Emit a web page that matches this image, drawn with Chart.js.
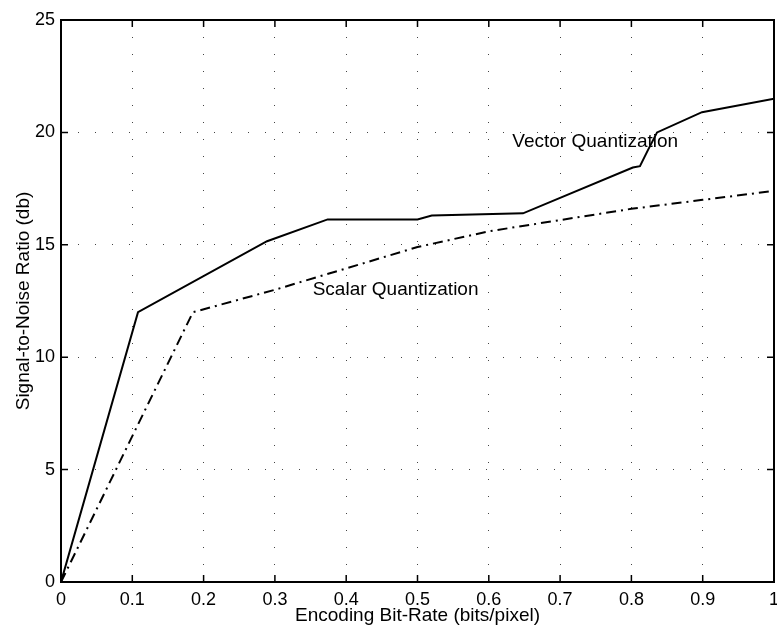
<!DOCTYPE html>
<html>
<head>
<meta charset="utf-8">
<script src="https://cdn.jsdelivr.net/npm/chart.js@4/dist/chart.umd.min.js"></script>
<style>
html,body{margin:0;padding:0;background:#fff;}
#wrap{width:777px;height:634px;}
</style>
</head>
<body>
<div id="wrap"><canvas id="c" width="777" height="634"></canvas></div>
<script>
const vectorX = [0, 0.108, 0.289, 0.374, 0.50, 0.52, 0.648, 0.802, 0.812, 0.823, 0.836, 0.899, 1.0];
const vectorY = [0, 12.0, 15.16, 16.13, 16.13, 16.3, 16.4, 18.44, 18.5, 19.2, 20.0, 20.9, 21.5];
const scalarX = [0, 0.185, 0.3, 0.4, 0.5, 0.6, 0.7, 0.8, 0.9, 1.0];
const scalarY = [0, 12.0, 13.0, 13.95, 14.9, 15.6, 16.1, 16.6, 17.0, 17.4];
const xTicks = [0, 0.1, 0.2, 0.3, 0.4, 0.5, 0.6, 0.7, 0.8, 0.9, 1];
const yTicks = [0, 5, 10, 15, 20, 25];
const labels = [
  {text: 'Vector Quantization', x: 0.633, y: 19.6},
  {text: 'Scalar Quantization', x: 0.353, y: 12.98}
];

const FONT = '"Liberation Sans", Arial, Helvetica, sans-serif';

const framePlugin = {
  id: 'frame',
  afterDatasetsDraw(chart) {
    const {ctx, chartArea: a, scales: {x, y}} = chart;
    ctx.save();
    ctx.strokeStyle = '#000';
    ctx.lineWidth = 2;
    ctx.setLineDash([]);
    ctx.strokeRect(a.left, a.top, a.right - a.left, a.bottom - a.top);
    ctx.lineWidth = 1.5;
    const L = 7;
    ctx.beginPath();
    xTicks.forEach(v => {
      const px = x.getPixelForValue(v);
      ctx.moveTo(px, a.bottom); ctx.lineTo(px, a.bottom - L);
      ctx.moveTo(px, a.top); ctx.lineTo(px, a.top + L);
    });
    yTicks.forEach(v => {
      const py = y.getPixelForValue(v);
      ctx.moveTo(a.left, py); ctx.lineTo(a.left + L, py);
      ctx.moveTo(a.right, py); ctx.lineTo(a.right - L, py);
    });
    ctx.stroke();
    ctx.fillStyle = '#000';
    ctx.font = '19px ' + FONT;
    ctx.textBaseline = 'middle';
    ctx.textAlign = 'left';
    labels.forEach(l => {
      ctx.fillText(l.text, x.getPixelForValue(l.x), y.getPixelForValue(l.y));
    });
    ctx.restore();
  }
};

new Chart(document.getElementById('c'), {
  type: 'line',
  data: {
    datasets: [
      {
        label: 'Vector Quantization',
        data: vectorX.map((v, i) => ({x: v, y: vectorY[i]})),
        borderColor: '#000', borderWidth: 2, pointRadius: 0, tension: 0, fill: false
      },
      {
        label: 'Scalar Quantization',
        data: scalarX.map((v, i) => ({x: v, y: scalarY[i]})),
        borderColor: '#000', borderWidth: 2, borderDash: [10, 5, 2, 5], pointRadius: 0, tension: 0, fill: false
      }
    ]
  },
  options: {
    responsive: false,
    animation: false,
    events: [],
    layout: {padding: {left: 0, right: 3, top: 20, bottom: 0}},
    plugins: {legend: {display: false}, tooltip: {enabled: false}},
    scales: {
      x: {
        type: 'linear', min: 0, max: 1,
        afterBuildTicks: s => { s.ticks = xTicks.map(v => ({value: v})); },
        afterFit: s => { s.height = 52; s.paddingLeft = 0; s.paddingRight = 0; },
        ticks: {color: '#000', font: {family: FONT, size: 18}, padding: 7, maxRotation: 0,
          callback: v => String(Math.round(v * 10) / 10)},
        grid: {color: '#444', lineWidth: 1, drawTicks: false},
        border: {display: false, dash: [1, 16]},
        title: {display: true, text: 'Encoding Bit-Rate (bits/pixel)', color: '#000',
          font: {family: FONT, size: 19}, padding: 7}
      },
      y: {
        type: 'linear', min: 0, max: 25,
        afterBuildTicks: s => { s.ticks = yTicks.map(v => ({value: v})); },
        afterFit: s => { s.width = 61; s.paddingTop = 0; s.paddingBottom = 0; },
        ticks: {color: '#000', font: {family: FONT, size: 18}, padding: 6},
        grid: {color: '#444', lineWidth: 1, drawTicks: false},
        border: {display: false, dash: [1, 16]},
        title: {display: true, text: 'Signal-to-Noise Ratio (db)', color: '#000',
          font: {family: FONT, size: 19}, padding: 12}
      }
    }
  },
  plugins: [framePlugin]
});
</script>
</body>
</html>
